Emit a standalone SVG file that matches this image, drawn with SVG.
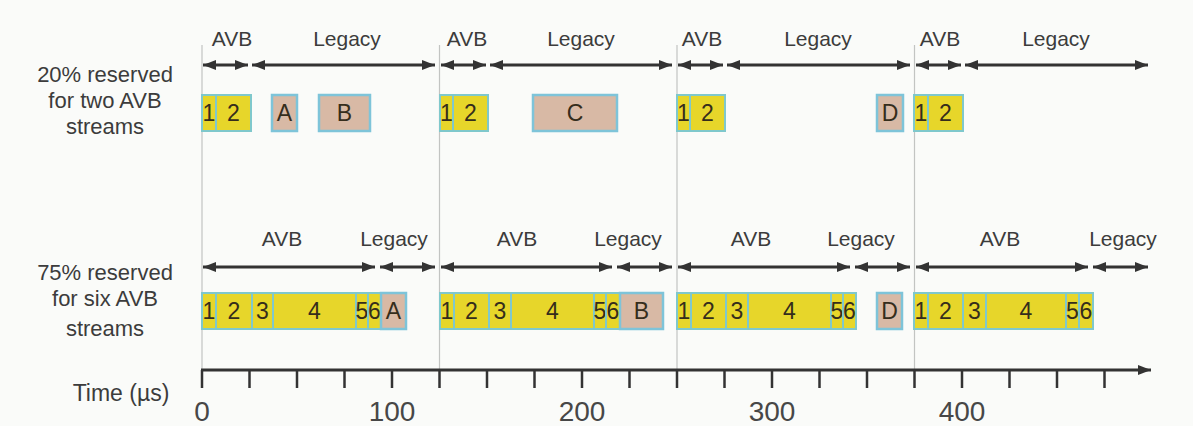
<svg xmlns="http://www.w3.org/2000/svg" width="1193" height="426" viewBox="0 0 1193 426">
  <defs>
    <marker id="head" markerUnits="userSpaceOnUse" markerWidth="13" markerHeight="10" refX="13" refY="5" orient="auto-start-reverse">
      <path d="M0,0 L13,5 L0,10 z" fill="#333"/>
    </marker>
    <style>
      text { font-family: "Liberation Sans", Arial, sans-serif; fill: #3c3c3c; }
      .side { font-size: 22px; text-anchor: middle; }
      .span { font-size: 21px; text-anchor: middle; }
      .num { font-size: 28px; text-anchor: middle; fill: #474747; }
      .cell { fill: #e7d62a; stroke: #7fc8cc; stroke-width: 2; }
      .legacy { fill: #d8b9a5; stroke: #7ec4d9; stroke-width: 2.5; }
      .lbl { font-size: 23px; text-anchor: middle; fill: #352d1c; }
      .arrow { stroke: #333; stroke-width: 2.8; fill: none; marker-start: url(#head); marker-end: url(#head); }
      .grid { stroke: #c2c4c2; stroke-width: 1.2; }
      .tick { stroke: #333; stroke-width: 2.5; }
    </style>
  </defs>

  <rect x="0" y="0" width="1193" height="426" fill="#fafbf9"/>

  <!-- period boundaries every 125 us -->
  <g id="gridlines">
    <line class="grid" x1="202" y1="45" x2="202" y2="370"/>
    <line class="grid" x1="439.5" y1="45" x2="439.5" y2="370"/>
    <line class="grid" x1="677" y1="45" x2="677" y2="370"/>
    <line class="grid" x1="914.5" y1="45" x2="914.5" y2="370"/>
  </g>

  <!-- row captions -->
  <g id="caption-20">
    <text class="side" x="105" y="82">20% reserved</text>
    <text class="side" x="105" y="108">for two AVB</text>
    <text class="side" x="105" y="134">streams</text>
  </g>
  <g id="caption-75">
    <text class="side" x="105" y="280">75% reserved</text>
    <text class="side" x="105" y="306">for six AVB</text>
    <text class="side" x="105" y="336">streams</text>
  </g>
  <g id="caption-time">
    <text class="side" x="121" y="401" style="font-size:23px">Time (µs)</text>
  </g>

  <!-- span labels, 20% row -->
  <g id="spans-20">
    <text class="span" x="232" y="46">AVB</text>
    <text class="span" x="347" y="46">Legacy</text>
    <text class="span" x="467" y="46">AVB</text>
    <text class="span" x="581" y="46">Legacy</text>
    <text class="span" x="702" y="46">AVB</text>
    <text class="span" x="818" y="46">Legacy</text>
    <text class="span" x="940" y="46">AVB</text>
    <text class="span" x="1056" y="46">Legacy</text>
  </g>
  <!-- span labels, 75% row -->
  <g id="spans-75">
    <text class="span" x="282" y="246">AVB</text>
    <text class="span" x="394" y="246">Legacy</text>
    <text class="span" x="517" y="246">AVB</text>
    <text class="span" x="628" y="246">Legacy</text>
    <text class="span" x="751" y="246">AVB</text>
    <text class="span" x="861" y="246">Legacy</text>
    <text class="span" x="1000" y="246">AVB</text>
    <text class="span" x="1123" y="246">Legacy</text>
  </g>

  <!-- connectors: span arrows and time axis -->
  <g id="connectors">
    <line class="arrow" x1="203" y1="65" x2="248" y2="65"/>
    <line class="arrow" x1="252" y1="65" x2="435" y2="65"/>
    <line class="arrow" x1="441" y1="65" x2="486" y2="65"/>
    <line class="arrow" x1="490" y1="65" x2="672" y2="65"/>
    <line class="arrow" x1="678" y1="65" x2="723" y2="65"/>
    <line class="arrow" x1="727" y1="65" x2="910" y2="65"/>
    <line class="arrow" x1="916" y1="65" x2="961" y2="65"/>
    <line class="arrow" x1="965" y1="65" x2="1148" y2="65"/>

    <line class="arrow" x1="203" y1="267" x2="375" y2="267"/>
    <line class="arrow" x1="380" y1="267" x2="435" y2="267"/>
    <line class="arrow" x1="441" y1="267" x2="612" y2="267"/>
    <line class="arrow" x1="617" y1="267" x2="672" y2="267"/>
    <line class="arrow" x1="678" y1="267" x2="850" y2="267"/>
    <line class="arrow" x1="855" y1="267" x2="910" y2="267"/>
    <line class="arrow" x1="916" y1="267" x2="1088" y2="267"/>
    <line class="arrow" x1="1093" y1="267" x2="1148" y2="267"/>

    <line x1="201" y1="370" x2="1151" y2="370" stroke="#333" stroke-width="3" marker-end="url(#head)"/>
    <g id="ticks">
      <line class="tick" x1="202" y1="370" x2="202" y2="388"/>
      <line class="tick" x1="249.5" y1="370" x2="249.5" y2="388"/>
      <line class="tick" x1="297" y1="370" x2="297" y2="388"/>
      <line class="tick" x1="344.5" y1="370" x2="344.5" y2="388"/>
      <line class="tick" x1="392" y1="370" x2="392" y2="388"/>
      <line class="tick" x1="439.5" y1="370" x2="439.5" y2="388"/>
      <line class="tick" x1="487" y1="370" x2="487" y2="388"/>
      <line class="tick" x1="534.5" y1="370" x2="534.5" y2="388"/>
      <line class="tick" x1="582" y1="370" x2="582" y2="388"/>
      <line class="tick" x1="629.5" y1="370" x2="629.5" y2="388"/>
      <line class="tick" x1="677" y1="370" x2="677" y2="388"/>
      <line class="tick" x1="724.5" y1="370" x2="724.5" y2="388"/>
      <line class="tick" x1="772" y1="370" x2="772" y2="388"/>
      <line class="tick" x1="819.5" y1="370" x2="819.5" y2="388"/>
      <line class="tick" x1="867" y1="370" x2="867" y2="388"/>
      <line class="tick" x1="914.5" y1="370" x2="914.5" y2="388"/>
      <line class="tick" x1="962" y1="370" x2="962" y2="388"/>
      <line class="tick" x1="1009.5" y1="370" x2="1009.5" y2="388"/>
      <line class="tick" x1="1057" y1="370" x2="1057" y2="388"/>
      <line class="tick" x1="1104.5" y1="370" x2="1104.5" y2="388"/>
    </g>
  </g>

  <g id="axis-labels">
    <text class="num" x="202" y="421">0</text>
    <text class="num" x="392" y="421">100</text>
    <text class="num" x="582" y="421">200</text>
    <text class="num" x="772" y="421">300</text>
    <text class="num" x="962" y="421">400</text>
  </g>

  <!-- 20% row frames -->
  <g id="row20-p1">
    <rect class="cell" x="202" y="95" width="14" height="36"/><text class="lbl" x="209" y="121">1</text>
    <rect class="cell" x="216" y="95" width="35" height="36"/><text class="lbl" x="233.5" y="121">2</text>
  </g>
  <g id="row20-A"><rect class="legacy" x="272" y="95" width="25" height="36"/><text class="lbl" x="284.5" y="121">A</text></g>
  <g id="row20-B"><rect class="legacy" x="319" y="95" width="51" height="36"/><text class="lbl" x="344.5" y="121">B</text></g>
  <g id="row20-p2">
    <rect class="cell" x="440" y="95" width="13" height="36"/><text class="lbl" x="446.5" y="121">1</text>
    <rect class="cell" x="453" y="95" width="35" height="36"/><text class="lbl" x="470.5" y="121">2</text>
  </g>
  <g id="row20-C"><rect class="legacy" x="533" y="95" width="84" height="36"/><text class="lbl" x="575" y="121">C</text></g>
  <g id="row20-p3">
    <rect class="cell" x="677" y="95" width="13" height="36"/><text class="lbl" x="683.5" y="121">1</text>
    <rect class="cell" x="690" y="95" width="35" height="36"/><text class="lbl" x="707.5" y="121">2</text>
  </g>
  <g id="row20-D"><rect class="legacy" x="877" y="95" width="26" height="36"/><text class="lbl" x="890" y="121">D</text></g>
  <g id="row20-p4">
    <rect class="cell" x="914" y="95" width="14" height="36"/><text class="lbl" x="921" y="121">1</text>
    <rect class="cell" x="928" y="95" width="35" height="36"/><text class="lbl" x="945.5" y="121">2</text>
  </g>

  <!-- 75% row frames -->
  <g id="row75-p1">
    <rect class="cell" x="202" y="293" width="14" height="36"/><text class="lbl" x="209" y="319">1</text>
    <rect class="cell" x="216" y="293" width="36" height="36"/><text class="lbl" x="234" y="319">2</text>
    <rect class="cell" x="252" y="293" width="21" height="36"/><text class="lbl" x="262.5" y="319">3</text>
    <rect class="cell" x="273" y="293" width="83" height="36"/><text class="lbl" x="314.5" y="319">4</text>
    <rect class="cell" x="356" y="293" width="12" height="36"/><text class="lbl" x="362" y="319">5</text>
    <rect class="cell" x="368" y="293" width="13" height="36"/><text class="lbl" x="374.5" y="319">6</text>
  </g>
  <g id="row75-A"><rect class="legacy" x="381" y="293" width="25" height="36"/><text class="lbl" x="393.5" y="319">A</text></g>
  <g id="row75-p2">
    <rect class="cell" x="440" y="293" width="14" height="36"/><text class="lbl" x="447" y="319">1</text>
    <rect class="cell" x="454" y="293" width="35" height="36"/><text class="lbl" x="471.5" y="319">2</text>
    <rect class="cell" x="489" y="293" width="22" height="36"/><text class="lbl" x="500" y="319">3</text>
    <rect class="cell" x="511" y="293" width="83" height="36"/><text class="lbl" x="552.5" y="319">4</text>
    <rect class="cell" x="594" y="293" width="12" height="36"/><text class="lbl" x="600" y="319">5</text>
    <rect class="cell" x="606" y="293" width="14" height="36"/><text class="lbl" x="613" y="319">6</text>
  </g>
  <g id="row75-B"><rect class="legacy" x="620" y="293" width="43" height="36"/><text class="lbl" x="641.5" y="319">B</text></g>
  <g id="row75-p3">
    <rect class="cell" x="677" y="293" width="14" height="36"/><text class="lbl" x="684" y="319">1</text>
    <rect class="cell" x="691" y="293" width="35" height="36"/><text class="lbl" x="708.5" y="319">2</text>
    <rect class="cell" x="726" y="293" width="22" height="36"/><text class="lbl" x="737" y="319">3</text>
    <rect class="cell" x="748" y="293" width="83" height="36"/><text class="lbl" x="789.5" y="319">4</text>
    <rect class="cell" x="831" y="293" width="12" height="36"/><text class="lbl" x="837" y="319">5</text>
    <rect class="cell" x="843" y="293" width="13" height="36"/><text class="lbl" x="849.5" y="319">6</text>
  </g>
  <g id="row75-D"><rect class="legacy" x="877" y="293" width="25" height="36"/><text class="lbl" x="889.5" y="319">D</text></g>
  <g id="row75-p4">
    <rect class="cell" x="914" y="293" width="14" height="36"/><text class="lbl" x="921" y="319">1</text>
    <rect class="cell" x="928" y="293" width="35" height="36"/><text class="lbl" x="945.5" y="319">2</text>
    <rect class="cell" x="963" y="293" width="23" height="36"/><text class="lbl" x="974.5" y="319">3</text>
    <rect class="cell" x="986" y="293" width="80" height="36"/><text class="lbl" x="1026" y="319">4</text>
    <rect class="cell" x="1066" y="293" width="13" height="36"/><text class="lbl" x="1072.5" y="319">5</text>
    <rect class="cell" x="1079" y="293" width="14" height="36"/><text class="lbl" x="1086" y="319">6</text>
  </g>
</svg>
